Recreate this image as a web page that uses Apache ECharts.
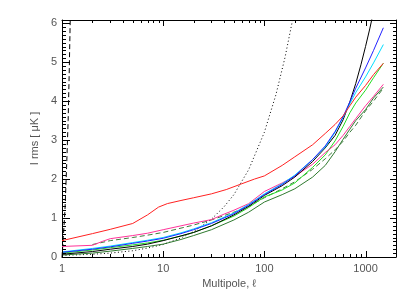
<!DOCTYPE html>
<html><head><meta charset="utf-8">
<script src="https://cdn.jsdelivr.net/npm/echarts@6/dist/echarts.min.js"></script>
<style>html,body{margin:0;padding:0;background:#fff}#c{width:415px;height:297px}</style>
</head><body><div id="c"></div>
<script>
// ---- data (multipole ell, rms in microK) ----
const xTickLabels = [1, 10, 100, 1000];
const yTickLabels = [0, 1, 2, 3, 4, 5, 6];
const dottedBlack = [[1,0.04],[2,0.07],[3,0.1],[5,0.16],[7,0.23],[10,0.32],[15,0.49],[20,0.65],[30,0.97],[40,1.29],[50,1.6],[70,2.24],[100,3.2],[130,4.16],[160,5.12],[190,6.08],[200,6.4]];
const dashedBlack = [[1.0,0],[1.03,0.5],[1.07,1.2],[1.11,2.3],[1.15,3.5],[1.18,4.8],[1.21,6.3]];
const redLine = [[1,0.42],[2,0.6],[3,0.71],[5,0.86],[7,1.08],[9,1.28],[11,1.37],[15,1.45],[20,1.52],[30,1.62],[42,1.73],[60,1.88],[80,2.0],[100,2.08],[150,2.35],[200,2.57],[300,2.88],[400,3.17],[500,3.4],[600,3.62],[700,3.88],[800,4.1],[1000,4.4],[1200,4.68],[1500,4.97]];
const pinkLine = [[1,0.27],[2,0.3],[2.5,0.4],[3,0.47],[5,0.55],[7,0.61],[10,0.7],[15,0.8],[20,0.87],[30,0.96],[40,1.1],[50,1.2],[70,1.37],[100,1.68],[150,1.9],[200,2.07],[300,2.38],[400,2.68],[500,2.88],[600,3.12],[700,3.35],[800,3.55],[1000,3.88],[1200,4.12],[1500,4.43]];
const dashedGreen = [[2,0.32],[3,0.42],[5,0.5],[7,0.56],[10,0.63],[20,0.82],[30,0.95],[50,1.15],[70,1.3],[100,1.52],[150,1.75],[200,1.93],[300,2.25],[400,2.52],[500,2.75],[600,2.97],[700,3.2],[800,3.38],[1000,3.75],[1200,4.0],[1500,4.33]];
const cyanLine = [[1,0.13],[2,0.22],[3,0.28],[5,0.37],[7,0.43],[10,0.5],[15,0.62],[20,0.72],[30,0.88],[50,1.13],[70,1.35],[100,1.62],[150,1.88],[200,2.1],[300,2.5],[400,2.82],[500,3.2],[600,3.58],[700,3.93],[800,4.22],[1000,4.62],[1200,4.98],[1500,5.45]];
const blueLine = [[1,0.12],[2,0.2],[3,0.26],[5,0.35],[7,0.41],[10,0.48],[15,0.6],[20,0.7],[30,0.86],[50,1.11],[70,1.33],[100,1.6],[150,1.86],[200,2.08],[300,2.5],[400,2.85],[500,3.22],[600,3.6],[700,3.98],[800,4.33],[1000,4.85],[1200,5.3],[1500,5.88]];
const blackLine = [[1,0.07],[2,0.14],[3,0.2],[5,0.27],[7,0.33],[10,0.42],[15,0.54],[20,0.63],[30,0.8],[50,1.08],[70,1.3],[100,1.58],[150,1.83],[200,2.05],[300,2.45],[400,2.8],[500,3.12],[600,3.52],[700,3.98],[800,4.45],[900,4.93],[1000,5.4],[1100,5.85],[1200,6.3]];
const greenLine = [[1,0.1],[2,0.18],[3,0.24],[5,0.31],[7,0.36],[10,0.43],[15,0.54],[20,0.63],[30,0.8],[50,1.05],[70,1.27],[100,1.54],[150,1.72],[200,1.9],[300,2.3],[400,2.62],[500,2.98],[600,3.35],[700,3.7],[800,3.95],[1000,4.28],[1200,4.6],[1500,4.97]];
const darkGreenLine = [[1,0.05],[2,0.1],[3,0.15],[5,0.22],[7,0.27],[10,0.33],[15,0.45],[20,0.55],[30,0.7],[50,0.95],[70,1.15],[100,1.41],[150,1.6],[200,1.75],[300,2.05],[400,2.35],[500,2.7],[600,3.02],[700,3.28],[800,3.5],[1000,3.78],[1200,4.08],[1500,4.36]];

const X_MIN = 1, X_MAX = 2000, Y_MIN = 0, Y_MAX = 6.08;
// tick marks (positions only)
const xTicks = [];
for (const d of [1, 10, 100, 1000]) for (let k = 1; k <= 9; k++) if (k * d < X_MAX) xTicks.push([k * d, 0, k === 1 ? 1 : 0]);
const yTicks = [];
for (let i = 0; i <= 60; i++) yTicks.push([X_MIN, i / 10, i % 10 === 0 ? 1 : 0]);

const FONT = 'Liberation Sans';
const TXT = '#555';
function line(data, color, type, z) {
  return { type: 'line', data, showSymbol: false, symbol: 'none', clip: true, z: z || 2,
    lineStyle: { color, width: 1, type: type || 'solid' }, silent: true, animation: false };
}
const px = v => Math.round(v) + 0.5;
function seg(x1, y1, x2, y2) {
  return { type: 'line', shape: { x1, y1, x2, y2 }, style: { stroke: '#000', lineWidth: 1 } };
}
const axisLineStyle = { show: true, onZero: false, lineStyle: { color: '#000', width: 1 } };
const chart = echarts.init(document.getElementById('c'), null, { renderer: 'canvas' });
chart.setOption({
  animation: false,
  backgroundColor: '#fff',
  grid: { left: 62, right: 19, top: 20, bottom: 40, show: false },
  xAxis: [
    { type: 'log', logBase: 10, min: X_MIN, max: X_MAX, position: 'bottom',
      name: 'Multipole, ℓ', nameLocation: 'middle', nameGap: 19,
      nameTextStyle: { color: TXT, fontFamily: FONT, fontSize: 11 },
      axisLine: axisLineStyle,
      axisTick: { show: false }, minorTick: { show: false },
      axisLabel: { color: TXT, fontFamily: FONT, fontSize: 11, margin: 6,
        showMaxLabel: false,
        formatter: v => xTickLabels.indexOf(Math.round(v)) >= 0 ? String(Math.round(v)) : '' },
      splitLine: { show: false } },
    { type: 'log', logBase: 10, min: X_MIN, max: X_MAX, position: 'top',
      axisLine: axisLineStyle,
      axisTick: { show: false }, minorTick: { show: false },
      axisLabel: { show: false }, splitLine: { show: false } }
  ],
  yAxis: [
    { type: 'value', min: Y_MIN, max: Y_MAX, interval: 1, position: 'left',
      name: 'I rms [ μK ]', nameLocation: 'middle', nameGap: 18, nameRotate: 90,
      nameTextStyle: { color: TXT, fontFamily: FONT, fontSize: 11 },
      axisLine: axisLineStyle,
      axisTick: { show: false },
      axisLabel: { color: TXT, fontFamily: FONT, fontSize: 11, margin: 5,
        formatter: v => yTickLabels.indexOf(v) >= 0 ? String(v) : '' },
      splitLine: { show: false } },
    { type: 'value', min: Y_MIN, max: Y_MAX, interval: 1, position: 'right',
      axisLine: axisLineStyle,
      axisTick: { show: false },
      axisLabel: { show: false }, splitLine: { show: false } }
  ],
  series: [
    { type: 'custom', data: xTicks, clip: false, silent: true, z: 5,
      renderItem: function (params, api) {
        const v = api.value(0), major = api.value(2) === 1;
        const b = api.coord([v, Y_MIN]);
        const t = api.coord([v, Y_MAX]);
        const L = major ? 6 : 3;
        const x = px(b[0]);
        return { type: 'group', children: [ seg(x, b[1], x, b[1] - L), seg(x, t[1], x, t[1] + L) ] };
      } },
    { type: 'custom', data: yTicks, clip: false, silent: true, z: 5,
      renderItem: function (params, api) {
        const v = api.value(1), major = api.value(2) === 1;
        const l = api.coord([X_MIN, v]);
        const r = api.coord([X_MAX, v]);
        const y = px(l[1]);
        return { type: 'group', children: [ seg(l[0], y, l[0] + (major ? 8 : 4), y), seg(r[0], y, r[0] - (major ? 6 : 3), y) ] };
      } },
    line(dottedBlack, '#000', [1, 2.5]),
    line(dashedBlack, '#000', [5, 3]),
    line(darkGreenLine, '#2f7a2f'),
    line(dashedGreen, '#3d7d3d', [5, 3]),
    line(greenLine, '#22dd22'),
    line(pinkLine, '#ff3399'),
    line(blackLine, '#000'),
    line(cyanLine, '#00ddff'),
    line(blueLine, '#2222ff'),
    line(redLine, '#ff2222')
  ]
});
</script></body></html>
